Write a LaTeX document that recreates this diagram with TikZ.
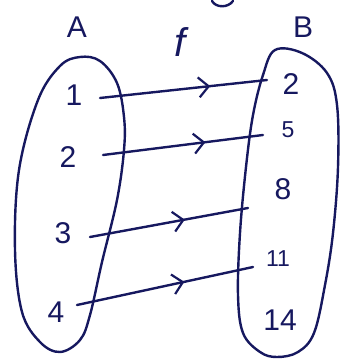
\documentclass[tikz,border=0pt]{standalone}
\usepackage{fontspec}
\setmainfont{Liberation Sans}
\usetikzlibrary{arrows.meta,decorations.markings}
\definecolor{ink}{RGB}{22,24,95}
\tikzset{
  ink/.style={draw=ink, line width=2.4pt, line cap=round, line join=round},
  lbl/.style={text=ink, font=\fontsize{30}{32}\selectfont, inner sep=0pt},
  slbl/.style={text=ink, font=\fontsize{23}{25}\selectfont, inner sep=0pt},
  mapline/.style={ink, postaction={decorate}, decoration={markings,
      mark=at position #1 with {\arrow[ink, line width=2.2pt]{Straight Barb[length=10pt,width=20pt]}}}}
}
\begin{document}
\begin{tikzpicture}[x=1pt,y=-1pt]
\useasboundingbox (0,0) rectangle (341,363);
% titles
\node[lbl] (tA) at (77,27) {A};
\node[text=ink, font=\fontsize{40}{42}\selectfont\itshape, inner sep=0pt] (tf) at (180,42) {f};
\node[lbl] (tB) at (303,27) {B};
% partial stroke at top
\draw[ink] (212,1) .. controls (216,8) and (228,8) .. (233,1);
% left oval
\draw[ink] plot[smooth cycle, tension=0.6] coordinates {
  (80,57) (100,61) (117,83) (124,117) (124,150) (117,200) (102,262)
  (90,315) (80,340) (60,352) (40,342) (22,312) (15,250) (19,170)
  (38,100) (60,66)};
% right oval
\draw[ink] plot[smooth cycle, tension=0.6] coordinates {
  (275,50) (302,53) (327,73) (337,105) (338,167) (333,233) (325,285)
  (314,333) (298,352) (277,357) (260,352) (243,333) (238,295) (240,233)
  (246,167) (253,115) (263,75)};
% domain labels
\node[lbl] (a1) at (74,95) {1};
\node[lbl] (a2) at (68,157) {2};
\node[lbl] (a3) at (63,233) {3};
\node[lbl] (a4) at (56,312) {4};
% codomain labels
\node[lbl] (b2) at (291,84) {2};
\node[slbl] (b5) at (288,130) {5};
\node[lbl] (b8) at (283,189) {8};
\node[slbl] (b11) at (278,259) {11};
\node[lbl] (b14) at (280,320) {14};
% connector end points
\coordinate (s1) at (100,98);  \coordinate (e1) at (267,80);
\coordinate (s2) at (103,155); \coordinate (e2) at (263,135);
\coordinate (s3) at (90,237);  \coordinate (e3) at (248,208);
\coordinate (s4) at (77,305);  \coordinate (e4) at (253,267);
\draw[mapline=0.66] (s1) -- (e1);
\draw[mapline=0.64] (s2) -- (e2);
\draw[mapline=0.60] (s3) -- (e3);
\draw[mapline=0.61] (s4) -- (e4);
\end{tikzpicture}
\end{document}
